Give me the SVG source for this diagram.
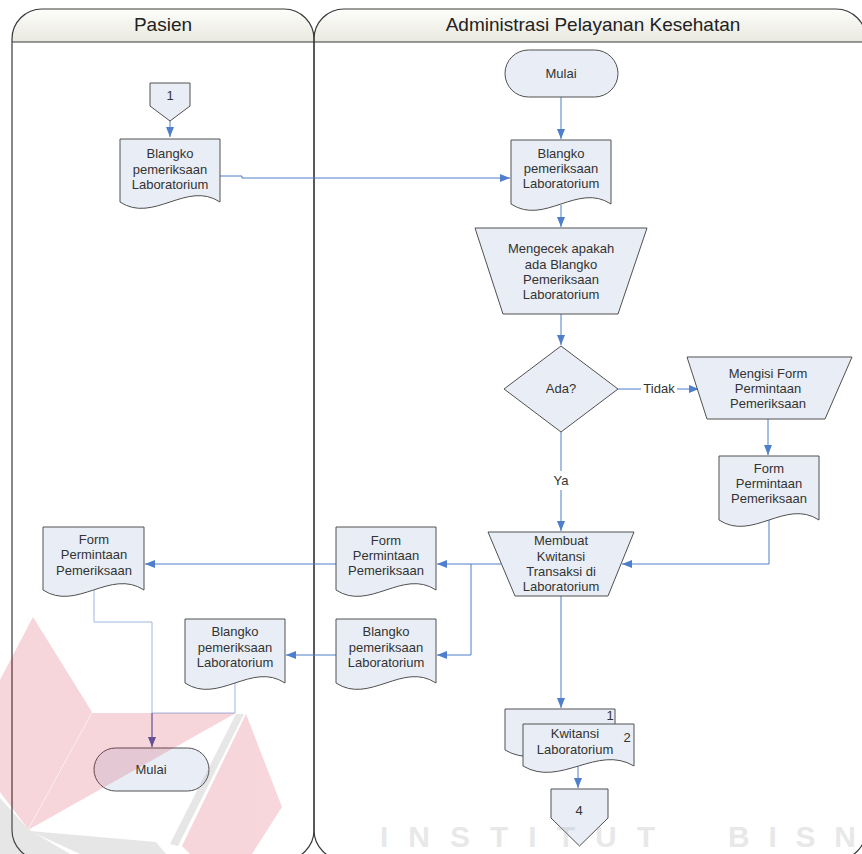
<svg xmlns="http://www.w3.org/2000/svg" width="862" height="854" viewBox="0 0 862 854">
<defs>
<linearGradient id="hdr" x1="0" y1="0" x2="0" y2="1">
<stop offset="0" stop-color="#fdfdfb"/>
<stop offset="1" stop-color="#e9e9df"/>
</linearGradient>
<marker id="arr" viewBox="0 0 10 8" refX="10" refY="4" markerWidth="10" markerHeight="8" markerUnits="userSpaceOnUse" orient="auto">
<path d="M0,0 L10,4 L0,8 Z" fill="#4f7fca"/>
</marker>
<marker id="arrD" viewBox="0 0 10 8" refX="10" refY="4" markerWidth="10" markerHeight="8" markerUnits="userSpaceOnUse" orient="auto">
<path d="M0,0 L10,4 L0,8 Z" fill="#4b5aa8"/>
</marker>
<style>
.lane{fill:none;stroke:#3a3a3a;stroke-width:1.2}
.hd{fill:url(#hdr);stroke:none}
.ht{font-family:"Liberation Sans",Arial,sans-serif;font-size:19px;fill:#222;text-anchor:middle}
.n{fill:#e9eef6;stroke:#505050;stroke-width:1}
.t{font-family:"Liberation Sans",Arial,sans-serif;font-size:13px;fill:#333;text-anchor:middle}
.c{fill:none;stroke:#4f7fca;stroke-width:1}
.cl{fill:none;stroke:#9fb6e0;stroke-width:1}
.cd{fill:none;stroke:#4b5aa8;stroke-width:1.2}
.wm{font-family:"Liberation Sans",Arial,sans-serif;font-weight:bold;font-size:30px;fill:#a8a8a8;opacity:0.25}
</style>
</defs>
<rect x="0" y="0" width="862" height="854" fill="#ffffff"/>

<g id="lanes">
<path class="hd" d="M12,42 V39 A30,30 0 0 1 42,9 H284 A30,30 0 0 1 314,39 V42 Z"/>
<path class="hd" d="M314,42 V39 A30,30 0 0 1 344,9 H836 A30,30 0 0 1 866,39 V42 Z"/>
<rect class="lane" x="12" y="9" width="302" height="851" rx="30" ry="30"/>
<rect class="lane" x="314" y="9" width="552" height="851" rx="30" ry="30"/>
<line class="lane" x1="12" y1="42" x2="866" y2="42"/>
<text class="ht" x="163" y="31">Pasien</text>
<text class="ht" x="593" y="31">Administrasi Pelayanan Kesehatan</text>
</g>

<g id="connectors">
<path class="c" d="M170,121 V137" marker-end="url(#arr)"/>
<path class="c" d="M220,176 H242 V178 H510" marker-end="url(#arr)"/>
<path class="c" d="M561,97 V139" marker-end="url(#arr)"/>
<path class="c" d="M561,205 V227" marker-end="url(#arr)"/>
<path class="c" d="M561,314 V345" marker-end="url(#arr)"/>
<path class="c" d="M618,389 H641"/>
<path class="c" d="M677,389 H699" marker-end="url(#arr)"/>
<text class="t" x="659" y="393">Tidak</text>
<path class="c" d="M768,419 V455" marker-end="url(#arr)"/>
<path class="c" d="M769,520 V564 H622" marker-end="url(#arr)"/>
<path class="c" d="M561,432 V471"/>
<path class="c" d="M561,490 V531" marker-end="url(#arr)"/>
<text class="t" x="561" y="485">Ya</text>
<path class="c" d="M501,564 H437" marker-end="url(#arr)"/>
<path class="c" d="M471,564 V655 H437" marker-end="url(#arr)"/>
<path class="c" d="M336,564 H145" marker-end="url(#arr)"/>
<path class="c" d="M336,655 H286" marker-end="url(#arr)"/>
<path class="cl" d="M94,590 V622 H152 V713"/>
<path class="cl" d="M235,683 V713 H152"/>
<path class="cd" d="M152,713 V747" marker-end="url(#arrD)"/>
<path class="c" d="M561,596 V708" marker-end="url(#arr)"/>
<path class="c" d="M578,766 V788" marker-end="url(#arr)"/>
</g>

<g id="n-con1">
<path class="n" d="M150,83 H190 V106 L170,121 L150,106 Z"/>
<text class="t" x="170" y="100">1</text>
</g>

<g id="n-doc-pasien-blangko">
<path class="n" d="M120,139 H220 V202 C186.7,180 153.3,224 120,202 Z"/>
<text class="t" x="170" y="158">Blangko</text>
<text class="t" x="170" y="174">pemeriksaan</text>
<text class="t" x="170" y="189">Laboratorium</text>
</g>

<g id="n-mulai">
<rect class="n" x="505" y="50" width="113" height="47" rx="23.5" ry="23.5"/>
<text class="t" x="561" y="78">Mulai</text>
</g>

<g id="n-doc-admin-blangko">
<path class="n" d="M511,140 H611 V204 C577.7,182 544.3,226 511,204 Z"/>
<text class="t" x="561" y="158">Blangko</text>
<text class="t" x="561" y="173">pemeriksaan</text>
<text class="t" x="561" y="188">Laboratorium</text>
</g>

<g id="n-cek">
<path class="n" d="M475,228 H647 L618,314 H503 Z"/>
<text class="t" x="561" y="253">Mengecek apakah</text>
<text class="t" x="561" y="269">ada Blangko</text>
<text class="t" x="561" y="284">Pemeriksaan</text>
<text class="t" x="561" y="299">Laboratorium</text>
</g>

<g id="n-ada">
<path class="n" d="M561,346 L618,389 L561,432 L504,389 Z"/>
<text class="t" x="561" y="393">Ada?</text>
</g>

<g id="n-mengisi">
<path class="n" d="M687,357 H852 L825,419 H707 Z"/>
<text class="t" x="768" y="378">Mengisi Form</text>
<text class="t" x="768" y="393">Permintaan</text>
<text class="t" x="768" y="408">Pemeriksaan</text>
</g>

<g id="n-doc-form-right">
<path class="n" d="M719,456 H819 V520 C785.7,498 752.3,542 719,520 Z"/>
<text class="t" x="769" y="473">Form</text>
<text class="t" x="769" y="488">Permintaan</text>
<text class="t" x="769" y="503">Pemeriksaan</text>
</g>

<g id="n-membuat">
<path class="n" d="M488,532 H634 L608,596 H515 Z"/>
<text class="t" x="561" y="545">Membuat</text>
<text class="t" x="561" y="561">Kwitansi</text>
<text class="t" x="561" y="576">Transaksi di</text>
<text class="t" x="561" y="591">Laboratorium</text>
</g>

<g id="n-doc-form-mid">
<path class="n" d="M336,527 H436 V590 C402.7,568 369.3,612 336,590 Z"/>
<text class="t" x="386" y="545">Form</text>
<text class="t" x="386" y="560">Permintaan</text>
<text class="t" x="386" y="575">Pemeriksaan</text>
</g>

<g id="n-doc-blangko-mid">
<path class="n" d="M336,619 H436 V683 C402.7,661 369.3,705 336,683 Z"/>
<text class="t" x="386" y="636">Blangko</text>
<text class="t" x="386" y="652">pemeriksaan</text>
<text class="t" x="386" y="667">Laboratorium</text>
</g>

<g id="n-doc-form-left">
<path class="n" d="M43,527 H144 V590 C110.3,568 76.7,612 43,590 Z"/>
<text class="t" x="94" y="544">Form</text>
<text class="t" x="94" y="559">Permintaan</text>
<text class="t" x="94" y="575">Pemeriksaan</text>
</g>

<g id="n-doc-blangko-left">
<path class="n" d="M185,619 H285 V683 C251.7,661 218.3,705 185,683 Z"/>
<text class="t" x="235" y="636">Blangko</text>
<text class="t" x="235" y="652">pemeriksaan</text>
<text class="t" x="235" y="667">Laboratorium</text>
</g>

<g id="n-selesai">
<rect class="n" x="94" y="748" width="115" height="43" rx="21.5" ry="21.5"/>
<text class="t" x="151" y="774">Mulai</text>
</g>

<g id="n-kwitansi">
<path class="n" d="M505,709 H615 V750 C578.3,728 541.7,772 505,750 Z"/>
<path class="n" d="M523,724 H634 V766 C597,744 560,788 523,766 Z"/>
<text class="t" x="610" y="720">1</text>
<text class="t" x="627" y="742">2</text>
<text class="t" x="575" y="738">Kwitansi</text>
<text class="t" x="575" y="754">Laboratorium</text>
</g>

<g id="n-con4">
<path class="n" d="M551,789 H608 V818 L579.5,846 L551,818 Z"/>
<text class="t" x="579" y="815">4</text>
</g>

<g id="watermark">
<g fill="#d0203a" opacity="0.18">
<polygon points="33,617 92,712 28,829 0,792 0,680"/>
<polygon points="28,830 92,713 236,713"/>
<polygon points="246,714 282,807 252,854 190,854 182,846"/>
</g>
<g fill="#7a7a7a" opacity="0.18">
<polygon points="0,798 28,829 70,854 0,854"/>
<polygon points="30,831 156,842 166,854 80,854"/>
<polygon points="236,714 244,714 178,846 170,844"/>
</g>
<text class="wm" x="380" y="847" letter-spacing="20">INSTITUT</text>
<text class="wm" x="728" y="847" textLength="128" lengthAdjust="spacing">BISN</text>
</g>
</svg>
